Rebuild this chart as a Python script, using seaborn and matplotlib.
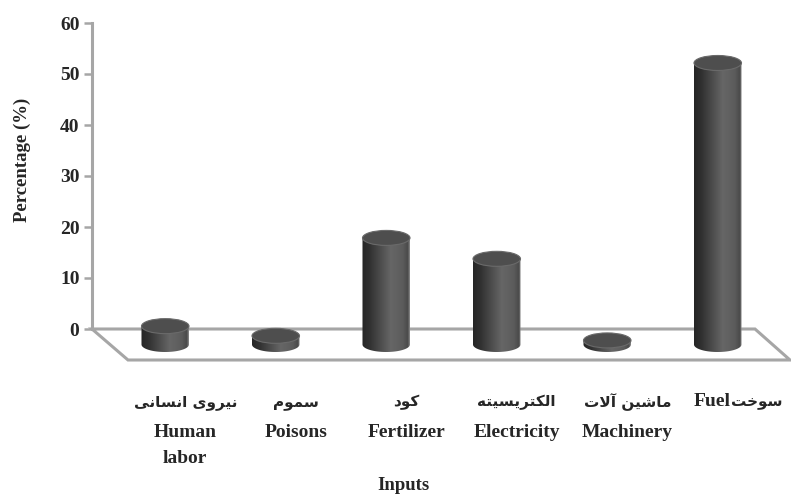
import numpy as np
import pandas as pd
import matplotlib
matplotlib.use("Agg")
import matplotlib.pyplot as plt
import matplotlib.transforms as mtransforms
import seaborn as sns
from matplotlib.patches import Ellipse, Polygon, PathPatch
from matplotlib.path import Path
from matplotlib.colors import LinearSegmentedColormap

# --- data ---
categories_fa = ["نیروی انسانی", "سموم", "کود", "الکتریسیته", "ماشین آلات", "سوخت"]
categories_en = ["Human\nlabor", "Poisons", "Fertilizer", "Electricity", "Machinery", "Fuel"]
values = [3.6, 1.7, 20.9, 16.8, 0.8, 55.2]
y_ticks = [0, 10, 20, 30, 40, 50, 60]
y_label = "Percentage (%)"
x_label = "Inputs"

# --- simple Persian shaping (matplotlib has no RTL / joining support) ---
# letter: (isolated, final, initial, medial); two entries = joins only to the right
FORMS = {
    "ا": ("\uFE8D", "\uFE8E"), "آ": ("\uFE81", "\uFE82"),
    "د": ("\uFEA9", "\uFEAA"), "ر": ("\uFEAD", "\uFEAE"), "و": ("\uFEED", "\uFEEE"),
    "ن": ("\uFEE5", "\uFEE6", "\uFEE7", "\uFEE8"),
    "ی": ("\uFBFC", "\uFBFD", "\uFBFE", "\uFBFF"),
    "س": ("\uFEB1", "\uFEB2", "\uFEB3", "\uFEB4"),
    "ش": ("\uFEB5", "\uFEB6", "\uFEB7", "\uFEB8"),
    "م": ("\uFEE1", "\uFEE2", "\uFEE3", "\uFEE4"),
    "ک": ("\uFB8E", "\uFB8F", "\uFB90", "\uFB91"),
    "ل": ("\uFEDD", "\uFEDE", "\uFEDF", "\uFEE0"),
    "ت": ("\uFE95", "\uFE96", "\uFE97", "\uFE98"),
    "ه": ("\uFEE9", "\uFEEA", "\uFEEB", "\uFEEC"),
    "خ": ("\uFEA5", "\uFEA6", "\uFEA7", "\uFEA8"),
}
LAM_ALEF = {"ا": ("\uFEFB", "\uFEFC"), "آ": ("\uFEF5", "\uFEF6")}


def shape_fa(text):
    out = []
    chars = list(text)
    i = 0
    while i < len(chars):
        c = chars[i]
        if c not in FORMS:
            out.append(c)
            i += 1
            continue
        prev = chars[i - 1] if i > 0 else " "
        joins_prev = prev in FORMS and len(FORMS[prev]) == 4
        if c == "ل" and i + 1 < len(chars) and chars[i + 1] in LAM_ALEF:
            out.append(LAM_ALEF[chars[i + 1]][1 if joins_prev else 0])
            i += 2
            continue
        nxt = chars[i + 1] if i + 1 < len(chars) else " "
        joins_next = len(FORMS[c]) == 4 and nxt in FORMS
        f = FORMS[c]
        if joins_prev and joins_next:
            out.append(f[3])
        elif joins_prev:
            out.append(f[1])
        elif joins_next:
            out.append(f[2])
        else:
            out.append(f[0])
        i += 1
    return "".join(out[::-1])


sns.set_style("white")
plt.rcParams["font.family"] = ["Liberation Serif", "DejaVu Sans"]
plt.rcParams["font.weight"] = "bold"
FA_FONT = ["DejaVu Sans"]

W, H = 791, 495
fig = plt.figure(figsize=(W / 100, H / 100), dpi=100)
fig.patch.set_facecolor("white")


def px_axes(left, top, width, height):
    return fig.add_axes([left / W, 1 - (top + height) / H, width / W, height / H])


GRAY = "#a6a6a6"
PX_PER_UNIT = 306 / 60

# back wall: only the value axis is visible
wall = px_axes(92, 23, 663, 306)
wall.set_ylim(0, 60)
wall.set_xlim(0, 1)
wall.set_yticks(y_ticks)
wall.set_yticklabels([str(t) for t in y_ticks], fontsize=14, fontweight="bold")
wall.set_xticks([])
for s in ["top", "right", "bottom"]:
    wall.spines[s].set_visible(False)
wall.spines["left"].set_color(GRAY)
wall.spines["left"].set_linewidth(2.2)
wall.tick_params(axis="y", left=True, length=6, width=1.8, color=GRAY, pad=3)
wall.patch.set_alpha(0)

# floor (oblique projection)
floor_px = [(92, 329), (755, 329), (790, 360), (128, 360)]
floor = Polygon([(x / W, 1 - y / H) for x, y in floor_px], closed=True,
                transform=fig.transFigure, facecolor="none", edgecolor=GRAY,
                linewidth=2.2, clip_on=False)
wall.add_patch(floor)

# bars sit half way into the floor depth (18 px right, 15.5 px down)
y_min = -5
bars_ax = px_axes(110, 38.5, 663, 306 + (-y_min) * PX_PER_UNIT)
df = pd.DataFrame({"input": categories_en, "value": values})
sns.barplot(data=df, x="input", y="value", ax=bars_ax, width=0.43,
            color="#555555", saturation=1, errorbar=None)

cyl_cmap = LinearSegmentedColormap.from_list(
    "cyl", [(0, "#262626"), (0.15, "#303030"), (0.6, "#666666"),
            (0.85, "#5c5c5c"), (0.96, "#4a4a4a"), (1.0, "#8c8c8c")])
grad = np.linspace(0, 1, 200).reshape(1, -1)
ell_h = 15 / PX_PER_UNIT  # ellipse height in value units

for bar in bars_ax.patches:
    x0, w, h = bar.get_x(), bar.get_width(), bar.get_height()
    cx = x0 + w / 2
    bar.set_visible(False)
    t = np.linspace(np.pi, 2 * np.pi, 60)
    arc = np.column_stack([cx + w / 2 * np.cos(t), ell_h / 2 * np.sin(t)])
    verts = np.vstack([[x0, h], [x0, 0], arc, [x0 + w, h], [x0, h]])
    codes = [Path.MOVETO] + [Path.LINETO] * (len(verts) - 2) + [Path.CLOSEPOLY]
    body = PathPatch(Path(verts, codes), transform=bars_ax.transData,
                     facecolor="none", edgecolor="none")
    bars_ax.add_patch(body)
    im = bars_ax.imshow(grad, cmap=cyl_cmap, aspect="auto", zorder=2,
                        extent=[x0, x0 + w, -ell_h / 2, h], interpolation="bilinear")
    im.set_clip_path(body)
    bars_ax.add_patch(Ellipse((cx, h), w, ell_h, facecolor="#4e4e4e",
                              edgecolor="#6a6a6a", linewidth=0.8, zorder=3))

bars_ax.set_xlim(-0.5, 5.5)
bars_ax.set_ylim(y_min, 60)
bars_ax.axis("off")

# category labels, centred on the front edge of the floor
lab_tr = mtransforms.blended_transform_factory(bars_ax.transData, fig.transFigure)
shift = 20 / 110.5
for i, (fa, en) in enumerate(zip(categories_fa, categories_en)):
    xc = i + shift
    if i == len(categories_fa) - 1:
        # Excel put "Fuel" and the Persian word on one line
        bars_ax.text(xc - 0.06, 1 - 401 / H, en, transform=lab_tr, ha="right",
                     va="center", fontsize=14, fontweight="bold")
        bars_ax.text(xc - 0.06, 1 - 402 / H, shape_fa(fa), transform=lab_tr,
                     ha="left", va="center", fontsize=11, fontweight="bold",
                     family=FA_FONT)
        continue
    bars_ax.text(xc, 1 - 402 / H, shape_fa(fa), transform=lab_tr, ha="center",
                 va="center", fontsize=11, fontweight="bold", family=FA_FONT)
    bars_ax.text(xc, 1 - 424 / H, en, transform=lab_tr, ha="center", va="top",
                 fontsize=14, fontweight="bold", linespacing=1.7)

fig.text(22 / W, 1 - 160 / H, y_label, rotation=90, ha="center", va="center",
         fontsize=13.5, fontweight="bold")
fig.text(403 / W, 1 - 485 / H, x_label, ha="center", va="center",
         fontsize=13.5, fontweight="bold")

plt.savefig("out.png", dpi=100)
